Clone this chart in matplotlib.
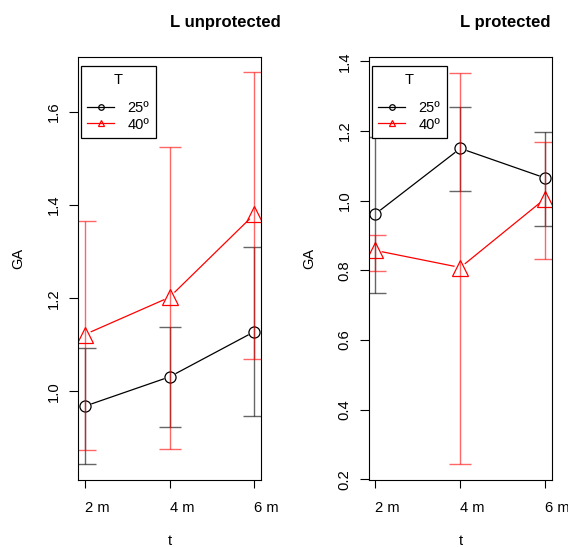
import matplotlib.pyplot as plt
from matplotlib.lines import Line2D

plt.rcParams['font.family'] = ['Liberation Sans', 'DejaVu Sans']

times = ["2 m", "4 m", "6 m"]
temps = ["25º", "40º"]

# L unprotected: means and interval limits per temperature
unprot_25 = [0.968, 1.031, 1.128]
unprot_25_lo = [0.844, 0.923, 0.947]
unprot_25_hi = [1.092, 1.138, 1.310]
unprot_40 = [1.122, 1.202, 1.380]
unprot_40_lo = [0.873, 0.877, 1.069]
unprot_40_hi = [1.365, 1.525, 1.686]

# L protected
prot_25 = [0.962, 1.150, 1.065]
prot_25_lo = [0.735, 1.029, 0.928]
prot_25_hi = [1.184, 1.270, 1.196]
prot_40 = [0.857, 0.808, 1.006]
prot_40_lo = [0.799, 0.243, 0.833]
prot_40_hi = [0.902, 1.366, 1.167]

W, H = 568, 547
fig = plt.figure(figsize=(W / 100, H / 100), dpi=100)


def px_axes(x0, x1, y0, y1):
    return fig.add_axes([x0 / W, 1 - y1 / H, (x1 - x0) / W, (y1 - y0) / H])


def draw_series(ax, x, y, lo, hi, color, marker, ms):
    ax.plot(x, y, color=color, lw=0.9, zorder=2)
    # white disc under each point leaves a gap in the connecting line
    ax.plot(x, y, ls='none', marker='o', ms=9.2, mfc='white', mec='none', zorder=3)
    ax.plot(x, y, ls='none', marker=marker, ms=ms, mfc='none', mec=color,
            mew=0.9, zorder=4)
    err = [[v - l for v, l in zip(y, lo)], [h - v for v, h in zip(y, hi)]]
    ax.errorbar(x, y, yerr=err, fmt='none', ecolor=color, alpha=0.6,
                elinewidth=1.0, capsize=7.9, capthick=1.0, zorder=5)


def panel(ax, title, tx, ylab_x, s25, s25lo, s25hi, s40, s40lo, s40hi,
          ylim, yticks):
    x = list(range(1, len(times) + 1))
    draw_series(ax, x, s25, s25lo, s25hi, 'black', 'o', 8.0)
    draw_series(ax, x, s40, s40lo, s40hi, 'red', '^', 11.5)
    ax.set_xlim(0.92, 3.08)
    ax.set_ylim(*ylim)
    ax.set_xticks(x)
    ax.set_xticklabels(times, ha='left', fontsize=10.6)
    ax.set_yticks(yticks)
    ax.set_yticklabels([f"{v:.1f}" for v in yticks], rotation=90,
                       va='center', fontsize=10.6)
    ax.tick_params(axis='y', length=6.3, width=0.8, pad=6)
    ax.tick_params(axis='x', length=6, width=0.8, pad=9)
    for sp in ax.spines.values():
        sp.set_linewidth(0.8)
        sp.set_zorder(10)

    handles = [
        Line2D([], [], color='black', lw=0.9, marker='o', ms=4, mfc='none', mew=0.9),
        Line2D([], [], color='red', lw=0.9, marker='^', ms=5, mfc='none', mew=0.9),
    ]
    leg = ax.legend(handles, temps, title="T", loc='upper left',
                    bbox_to_anchor=(0.016, 0.979), fontsize=10.5,
                    title_fontsize=10.5, fancybox=False, framealpha=1,
                    edgecolor='black', handlelength=1.85, handletextpad=0.9,
                    borderpad=0.45, labelspacing=0.2, borderaxespad=0)
    leg.get_frame().set_linewidth(0.9)
    leg._legend_box.sep = 10
    leg.set_zorder(20)

    fig.text(tx / W, 1 - 23 / H, title, ha='center', va='center',
             fontsize=12, fontweight='bold')
    fig.text(ylab_x / W, 1 - 258 / H, "GA", rotation=90, ha='center',
             va='center', fontsize=10.5)
    c = (ax.get_position().x0 + ax.get_position().x1) / 2
    fig.text(c, 1 - 541 / H, "t", ha='center', va='center', fontsize=10.5)


ax1 = px_axes(78, 261, 57.3, 480)
panel(ax1, "L unprotected", 225, 18, unprot_25, unprot_25_lo, unprot_25_hi,
      unprot_40, unprot_40_lo, unprot_40_hi, (0.8095, 1.7175),
      [1.0, 1.2, 1.4, 1.6])

ax2 = px_axes(368.7, 552, 57.3, 480)
panel(ax2, "L protected", 505, 309, prot_25, prot_25_lo, prot_25_hi,
      prot_40, prot_40_lo, prot_40_hi, (0.198, 1.4115),
      [0.2, 0.4, 0.6, 0.8, 1.0, 1.2, 1.4])

fig.savefig("out.png", dpi=100)
